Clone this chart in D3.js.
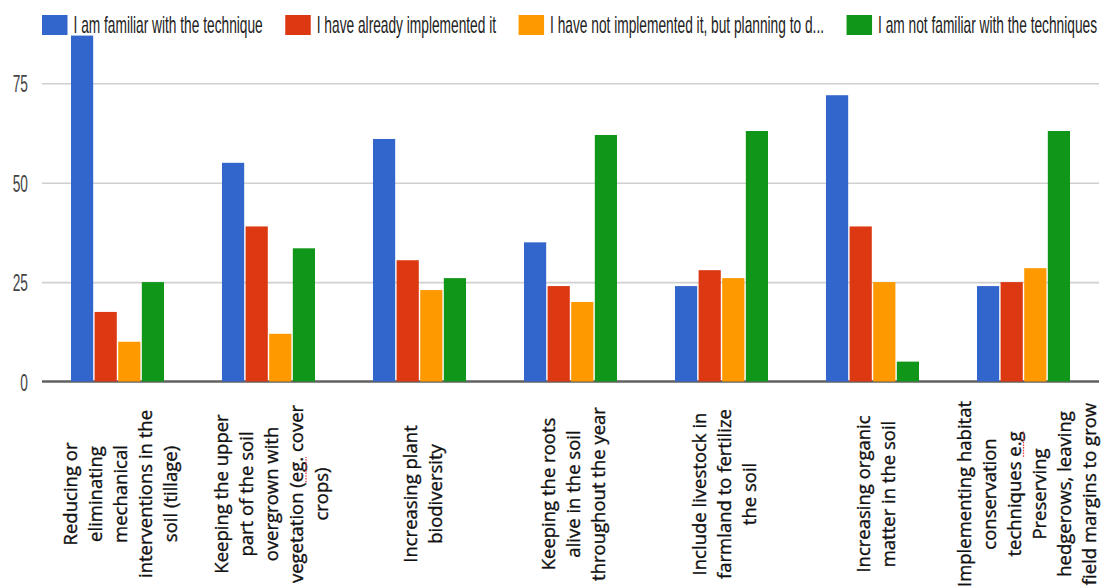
<!DOCTYPE html>
<html>
<head>
<meta charset="utf-8">
<script src="https://cdn.jsdelivr.net/npm/d3@7"></script>
<style>
  body { margin: 0; background: #fff; }
  svg { display: block; }
</style>
</head>
<body>
<svg id="chart" width="1103" height="586"></svg>
<script>
// Soil-practice survey: answers per technique
const categories = [
  ["Reducing or", "eliminating", "mechanical", "interventions in the", "soil (tillage)"],
  ["Keeping the upper", "part of the soil", "overgrown with", "vegetation (eg. cover", "crops)"],
  ["Increasing plant", "biodiversity"],
  ["Keeping the roots", "alive in the soil", "throughout the year"],
  ["Include livestock in", "farmland to fertilize", "the soil"],
  ["Increasing organic", "matter in the soil"],
  ["Implementing habitat", "conservation", "techniques e.g", "Preserving", "hedgerows, leaving", "field margins to grow"]
];

const seriesNames = [
  "I am familiar with the technique",
  "I have already implemented it",
  "I have not implemented it, but planning to d...",
  "I am not familiar with the techniques"
];

const familiarValues    = [87, 55, 61, 35, 24, 72, 24];
const implementedValues = [17.5, 39, 30.5, 24, 28, 39, 25];
const planningValues    = [10, 12, 23, 20, 26, 25, 28.5];
const notFamiliarValues = [25, 33.5, 26, 62, 63, 5, 63];

const yTicks = [0, 25, 50, 75];

// words carrying the spell-check underline in the labels
const flaggedWords = ["eg.", "e.g"];

const seriesValues = [familiarValues, implementedValues, planningValues, notFamiliarValues];
const colors = ["#3366cc", "#dc3912", "#ff9900", "#109618"];

const svg = d3.select("#chart");
const plotLeft = 42, plotRight = 1099;
const narrow = 0.597; // condensed rendering of the sans-serif chart text

const x0 = d3.scaleBand()
  .domain(d3.range(categories.length))
  .range([plotLeft, plotRight])
  .paddingInner(0.384)
  .paddingOuter(0.192);

const x1 = d3.scaleBand()
  .domain(d3.range(seriesNames.length))
  .range([0, x0.bandwidth()])
  .paddingInner(0.06);

const y = d3.scaleLinear().domain([0, 75]).range([381.5, 83.3]);

// gridlines + y tick labels
const yAxis = svg.append("g")
  .attr("transform", `translate(${plotLeft},0)`)
  .call(d3.axisLeft(y)
    .tickValues(yTicks)
    .tickSize(-(plotRight - plotLeft))
    .tickPadding(23.5)
    .tickFormat(d3.format("d")));
yAxis.select(".domain").remove();
yAxis.selectAll(".tick line")
  .attr("stroke", "#d0d0d0")
  .attr("stroke-width", 1.6)
  .attr("opacity", d => d === 0 ? 0 : 1);
yAxis.selectAll(".tick text")
  .attr("transform", `scale(${narrow},1)`)
  .attr("dy", "0.37em")
  .attr("fill", "#444")
  .style("font-family", "'Liberation Sans', Arial, sans-serif")
  .style("font-size", "23px");

// baseline
svg.append("line")
  .attr("x1", plotLeft).attr("x2", plotRight)
  .attr("y1", y(0)).attr("y2", y(0))
  .attr("stroke", "#606060")
  .attr("stroke-width", 2.6);

// bars
const groups = svg.append("g").selectAll("g")
  .data(categories.map((c, i) => i))
  .join("g")
  .attr("transform", i => `translate(${x0(i)},0)`);

groups.selectAll("rect")
  .data(i => seriesValues.map((vals, s) => ({ s, v: vals[i] })))
  .join("rect")
  .attr("x", d => x1(d.s))
  .attr("width", x1.bandwidth())
  .attr("y", d => y(d.v))
  .attr("height", d => y(0) - y(d.v))
  .attr("fill", d => colors[d.s]);

// legend
const legend = svg.append("g");
let lx = plotLeft;
seriesNames.forEach((name, i) => {
  legend.append("rect")
    .attr("x", lx).attr("y", 15)
    .attr("width", 25.5).attr("height", 20)
    .attr("fill", colors[i]);
  const t = legend.append("text")
    .attr("transform", `translate(${lx + 31.5},33.3) scale(${narrow},1)`)
    .attr("fill", "#222")
    .style("font-family", "'Liberation Sans', Arial, sans-serif")
    .style("font-size", "23px")
    .text(name);
  const w = t.node().getComputedTextLength() * narrow;
  lx += 31.5 + w + 22.5;
});

// rotated category labels
const lineGap = 25;
categories.forEach((lines, i) => {
  const cx = x0(i) + x0.bandwidth() / 2 + 9.5;
  const g = svg.append("g").attr("transform", `translate(${cx},494) rotate(-90)`);
  const t = g.append("text")
    .attr("text-anchor", "middle")
    .attr("fill", "#111")
    .attr("stroke", "#111")
    .attr("stroke-width", 0.35)
    .style("font-family", "'Open Sans', 'Noto Sans', sans-serif")
    .style("font-size", "18.5px");
  lines.forEach((ln, j) => {
    t.append("tspan")
      .attr("x", 0)
      .attr("y", (j - (lines.length - 1) / 2) * lineGap)
      .text(ln);
  });
  // red dotted spell-check mark under abbreviations
  const node = t.node();
  let offset = 0;
  lines.forEach((ln, j) => {
    flaggedWords.forEach(wd => {
      const k = ln.indexOf(wd);
      if (k >= 0) {
        const a = node.getStartPositionOfChar(offset + k);
        const b = node.getEndPositionOfChar(offset + k + wd.length - 1);
        g.append("line")
          .attr("x1", a.x).attr("x2", b.x)
          .attr("y1", a.y + 3).attr("y2", a.y + 3)
          .attr("stroke", "#e23b3b")
          .attr("stroke-width", 1.3)
          .attr("stroke-dasharray", "1.5,1.2");
      }
    });
    offset += ln.length;
  });
});
</script>
</body>
</html>
